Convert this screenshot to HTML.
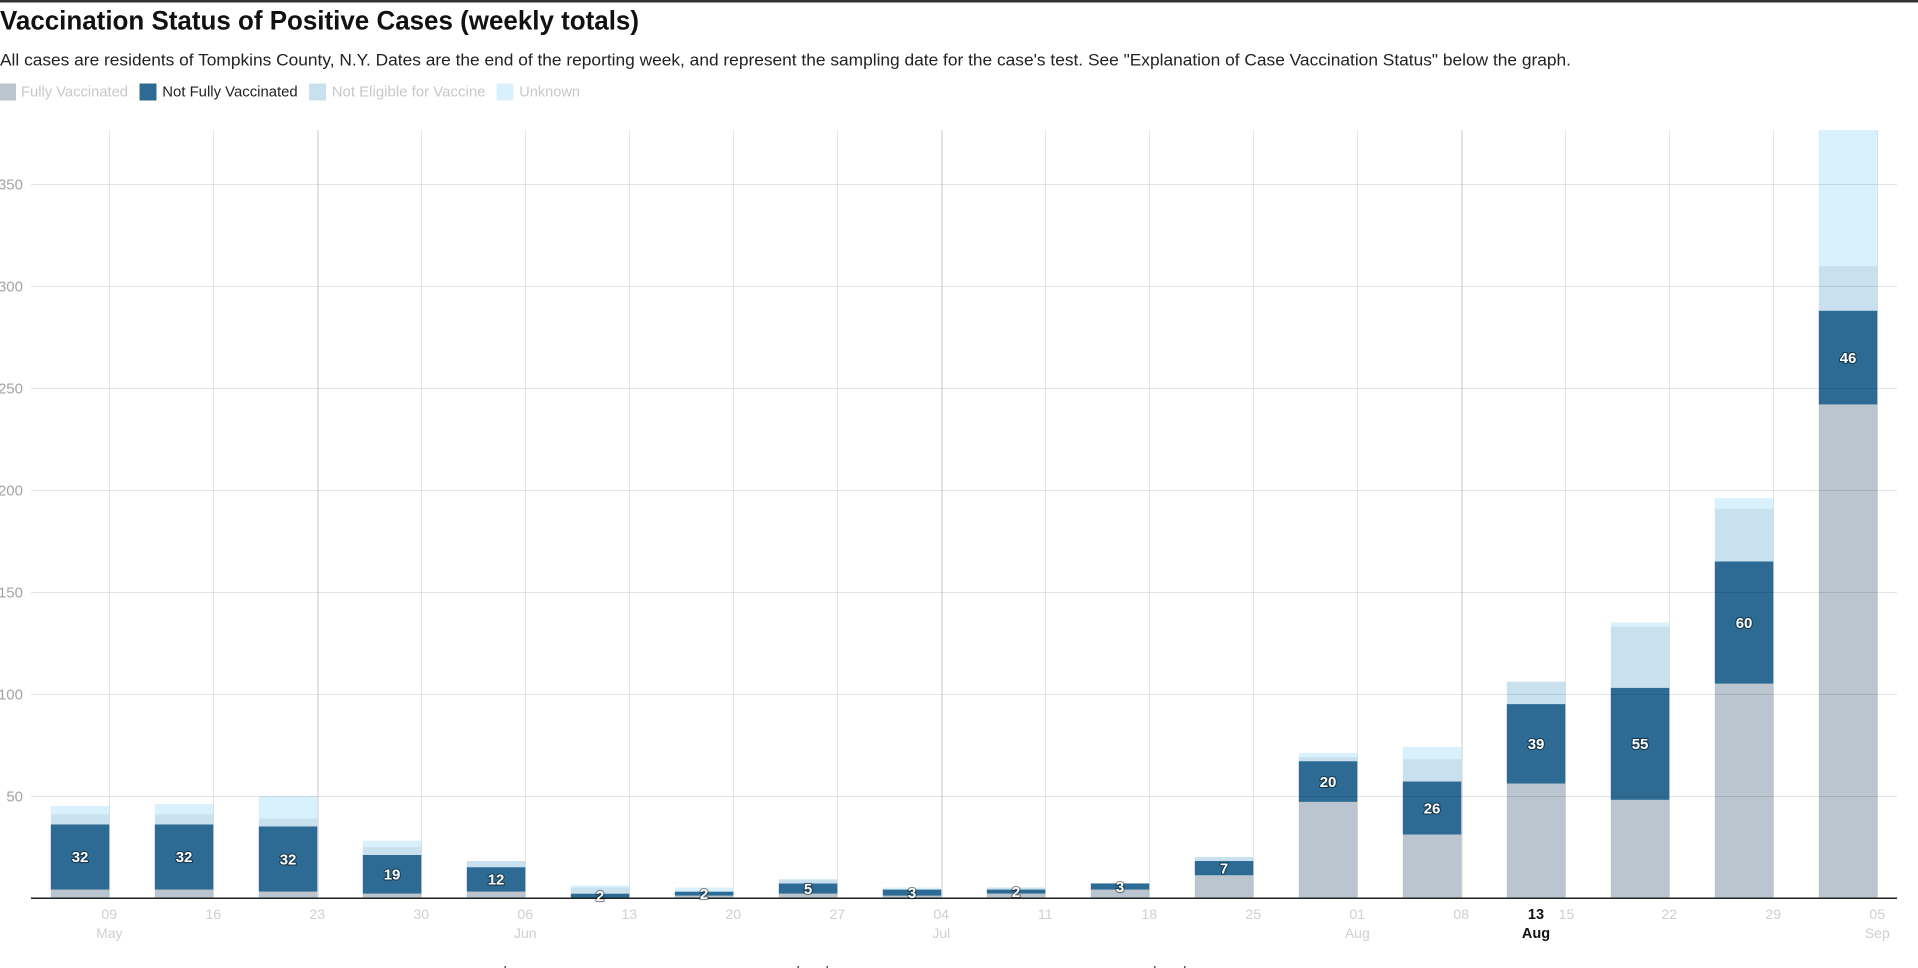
<!DOCTYPE html>
<html>
<head>
<meta charset="utf-8">
<style>
html,body{margin:0;padding:0;background:#fff;}
body{width:1918px;height:968px;overflow:hidden;}
svg{display:block;font-family:"Liberation Sans",Arial,sans-serif;}
.yl{font-size:15px;fill:#a3a3a3;text-anchor:end;}
.xl{font-size:14px;fill:#cfcfcf;text-anchor:middle;}
.bl{font-size:15px;font-weight:bold;fill:#fff;text-anchor:middle;stroke:rgba(0,0,0,0.45);stroke-width:2.2px;paint-order:stroke;stroke-linejoin:round;}
.g{fill:#bac5cf;}
.d{fill:#2d6b94;}
.n{fill:#c9e1ef;}
.u{fill:#d9f1fc;}
</style>
</head>
<body>
<svg width="1918" height="968" viewBox="0 0 1918 968" xmlns="http://www.w3.org/2000/svg">
<rect x="0" y="0" width="1918" height="968" fill="#fff"/>
<rect x="0" y="0" width="1918" height="2.5" fill="#333"/>

<!-- Title / subtitle -->
<text x="0" y="29.5" font-size="27" font-weight="bold" fill="#111" textLength="639" lengthAdjust="spacingAndGlyphs">Vaccination Status of Positive Cases (weekly totals)</text>
<text x="0" y="65.7" font-size="17" fill="#222" textLength="1571" lengthAdjust="spacingAndGlyphs">All cases are residents of Tompkins County, N.Y. Dates are the end of the reporting week, and represent the sampling date for the case's test. See &quot;Explanation of Case Vaccination Status&quot; below the graph.</text>

<!-- Legend -->
<rect x="-1" y="83.5" width="17" height="17" class="g"/>
<text x="21" y="96.7" font-size="15" fill="#c8c8c8" textLength="107" lengthAdjust="spacingAndGlyphs">Fully Vaccinated</text>
<rect x="139.5" y="83.5" width="17" height="17" class="d"/>
<text x="162.3" y="96.7" font-size="15" fill="#222" textLength="135.4" lengthAdjust="spacingAndGlyphs">Not Fully Vaccinated</text>
<rect x="309" y="83.5" width="17" height="17" class="n"/>
<text x="331.7" y="96.7" font-size="15" fill="#c8c8c8" textLength="153.8" lengthAdjust="spacingAndGlyphs">Not Eligible for Vaccine</text>
<rect x="496.5" y="83.5" width="17" height="17" class="u"/>
<text x="519.3" y="96.7" font-size="15" fill="#c8c8c8" textLength="60.7" lengthAdjust="spacingAndGlyphs">Unknown</text>

<!-- Bars -->
<g>
<!-- 0 -->
<rect x="50.8" y="889.55" width="58.5" height="8.15" class="g"/>
<rect x="50.8" y="824.32" width="58.5" height="65.23" class="d"/>
<rect x="50.8" y="814.13" width="58.5" height="10.19" class="n"/>
<rect x="50.8" y="806.00" width="58.5" height="8.13" class="u"/>
<!-- 1 -->
<rect x="154.8" y="889.55" width="58.5" height="8.15" class="g"/>
<rect x="154.8" y="824.32" width="58.5" height="65.23" class="d"/>
<rect x="154.8" y="814.13" width="58.5" height="10.19" class="n"/>
<rect x="154.8" y="803.96" width="58.5" height="10.17" class="u"/>
<!-- 2 -->
<rect x="258.8" y="891.59" width="58.5" height="6.11" class="g"/>
<rect x="258.8" y="826.36" width="58.5" height="65.23" class="d"/>
<rect x="258.8" y="818.21" width="58.5" height="8.15" class="n"/>
<rect x="258.8" y="795.79" width="58.5" height="22.42" class="u"/>
<!-- 3 -->
<rect x="362.8" y="893.62" width="58.5" height="4.08" class="g"/>
<rect x="362.8" y="854.90" width="58.5" height="38.72" class="d"/>
<rect x="362.8" y="846.74" width="58.5" height="8.16" class="n"/>
<rect x="362.8" y="840.63" width="58.5" height="6.11" class="u"/>
<!-- 4 -->
<rect x="466.8" y="891.59" width="58.5" height="6.11" class="g"/>
<rect x="466.8" y="867.13" width="58.5" height="24.46" class="d"/>
<rect x="466.8" y="861.01" width="58.5" height="6.12" class="n"/>
<!-- 5 -->
<rect x="570.8" y="893.62" width="58.5" height="4.08" class="d"/>
<rect x="570.8" y="887.51" width="58.5" height="6.11" class="n"/>
<rect x="570.8" y="885.47" width="58.5" height="2.04" class="u"/>
<!-- 6 -->
<rect x="674.8" y="895.66" width="58.5" height="2.04" class="g"/>
<rect x="674.8" y="891.59" width="58.5" height="4.07" class="d"/>
<rect x="674.8" y="887.51" width="58.5" height="4.08" class="u"/>
<!-- 7 -->
<rect x="778.8" y="893.62" width="58.5" height="4.08" class="g"/>
<rect x="778.8" y="883.43" width="58.5" height="10.19" class="d"/>
<rect x="778.8" y="879.36" width="58.5" height="4.07" class="n"/>
<!-- 8 -->
<rect x="882.8" y="895.66" width="58.5" height="2.04" class="g"/>
<rect x="882.8" y="889.55" width="58.5" height="6.11" class="d"/>
<rect x="882.8" y="887.51" width="58.5" height="2.04" class="u"/>
<!-- 9 -->
<rect x="986.8" y="893.62" width="58.5" height="4.08" class="g"/>
<rect x="986.8" y="889.55" width="58.5" height="4.07" class="d"/>
<rect x="986.8" y="887.51" width="58.5" height="2.04" class="n"/>
<!-- 10 -->
<rect x="1090.8" y="889.55" width="58.5" height="8.15" class="g"/>
<rect x="1090.8" y="883.43" width="58.5" height="6.12" class="d"/>
<!-- 11 -->
<rect x="1194.8" y="875.28" width="58.5" height="22.42" class="g"/>
<rect x="1194.8" y="861.01" width="58.5" height="14.27" class="d"/>
<rect x="1194.8" y="856.93" width="58.5" height="4.08" class="n"/>
<!-- 12 -->
<rect x="1298.8" y="801.90" width="58.5" height="95.80" class="g"/>
<rect x="1298.8" y="761.13" width="58.5" height="40.77" class="d"/>
<rect x="1298.8" y="757.06" width="58.5" height="4.07" class="n"/>
<rect x="1298.8" y="752.98" width="58.5" height="4.08" class="u"/>
<!-- 13 -->
<rect x="1402.8" y="834.51" width="58.5" height="63.19" class="g"/>
<rect x="1402.8" y="781.52" width="58.5" height="52.99" class="d"/>
<rect x="1402.8" y="759.10" width="58.5" height="22.42" class="n"/>
<rect x="1402.8" y="746.87" width="58.5" height="12.23" class="u"/>
<!-- 14 -->
<rect x="1506.8" y="783.56" width="58.5" height="114.14" class="g"/>
<rect x="1506.8" y="704.06" width="58.5" height="79.50" class="d"/>
<rect x="1506.8" y="681.64" width="58.5" height="22.42" class="n"/>
<!-- 15 -->
<rect x="1610.8" y="799.86" width="58.5" height="97.84" class="g"/>
<rect x="1610.8" y="687.75" width="58.5" height="112.11" class="d"/>
<rect x="1610.8" y="626.61" width="58.5" height="61.14" class="n"/>
<rect x="1610.8" y="622.53" width="58.5" height="4.08" class="u"/>
<!-- 16 -->
<rect x="1714.8" y="683.68" width="58.5" height="214.02" class="g"/>
<rect x="1714.8" y="561.38" width="58.5" height="122.30" class="d"/>
<rect x="1714.8" y="508.38" width="58.5" height="53.00" class="n"/>
<rect x="1714.8" y="498.19" width="58.5" height="10.19" class="u"/>
<!-- 17 -->
<rect x="1818.8" y="404.43" width="58.5" height="493.27" class="g"/>
<rect x="1818.8" y="310.67" width="58.5" height="93.76" class="d"/>
<rect x="1818.8" y="265.82" width="58.5" height="44.85" class="n"/>
<rect x="1818.8" y="130" width="58.5" height="135.82" class="u"/>
</g>

<!-- Gridlines (drawn over bars, translucent) -->
<g fill="rgba(0,0,0,0.1)">
<rect x="31" y="184" width="1866" height="1"/>
<rect x="31" y="286" width="1866" height="1"/>
<rect x="31" y="388" width="1866" height="1"/>
<rect x="31" y="490" width="1866" height="1"/>
<rect x="31" y="592" width="1866" height="1"/>
<rect x="31" y="694" width="1866" height="1"/>
<rect x="31" y="796" width="1866" height="1"/>
<rect x="109" y="130" width="1" height="768"/>
<rect x="213" y="130" width="1" height="768"/>
<rect x="317" y="130" width="2" height="768"/>
<rect x="421" y="130" width="1" height="768"/>
<rect x="525" y="130" width="1" height="768"/>
<rect x="629" y="130" width="1" height="768"/>
<rect x="733" y="130" width="1" height="768"/>
<rect x="837" y="130" width="1" height="768"/>
<rect x="941" y="130" width="2" height="768"/>
<rect x="1045" y="130" width="1" height="768"/>
<rect x="1149" y="130" width="1" height="768"/>
<rect x="1253" y="130" width="1" height="768"/>
<rect x="1357" y="130" width="1" height="768"/>
<rect x="1461" y="130" width="2" height="768"/>
<rect x="1565" y="130" width="1" height="768"/>
<rect x="1669" y="130" width="1" height="768"/>
<rect x="1773" y="130" width="1" height="768"/>
<rect x="1877" y="130" width="1" height="768"/>
</g>

<!-- Baseline -->
<rect x="31" y="897.5" width="1866" height="1.5" fill="#222"/>

<!-- Bar labels -->
<text class="bl" x="80.05" y="862.2">32</text>
<text class="bl" x="184.05" y="862.2">32</text>
<text class="bl" x="288.05" y="864.3">32</text>
<text class="bl" x="392.05" y="879.6">19</text>
<text class="bl" x="496.05" y="884.7">12</text>
<text class="bl" x="600.05" y="901.0">2</text>
<text class="bl" x="704.05" y="899.0">2</text>
<text class="bl" x="808.05" y="893.9">5</text>
<text class="bl" x="912.05" y="898.0">3</text>
<text class="bl" x="1016.05" y="897.0">2</text>
<text class="bl" x="1120.05" y="891.9">3</text>
<text class="bl" x="1224.05" y="873.5">7</text>
<text class="bl" x="1328.05" y="786.8">20</text>
<text class="bl" x="1432.05" y="813.4">26</text>
<text class="bl" x="1536.05" y="749.2">39</text>
<text class="bl" x="1640.05" y="749.2">55</text>
<text class="bl" x="1744.05" y="627.9">60</text>
<text class="bl" x="1848.05" y="362.9">46</text>

<!-- Y axis labels -->
<text class="yl" x="23" y="189.7">350</text>
<text class="yl" x="23" y="291.7">300</text>
<text class="yl" x="23" y="393.7">250</text>
<text class="yl" x="23" y="495.7">200</text>
<text class="yl" x="23" y="597.7">150</text>
<text class="yl" x="23" y="699.7">100</text>
<text class="yl" x="23" y="801.7">50</text>

<!-- X axis labels -->
<text class="xl" x="109.3" y="919">09</text>
<text class="xl" x="109.3" y="938">May</text>
<text class="xl" x="213.3" y="919">16</text>
<text class="xl" x="317.3" y="919">23</text>
<text class="xl" x="421.3" y="919">30</text>
<text class="xl" x="525.3" y="919">06</text>
<text class="xl" x="525.3" y="938">Jun</text>
<text class="xl" x="629.3" y="919">13</text>
<text class="xl" x="733.3" y="919">20</text>
<text class="xl" x="837.3" y="919">27</text>
<text class="xl" x="941.3" y="919">04</text>
<text class="xl" x="941.3" y="938">Jul</text>
<text class="xl" x="1045.3" y="919">11</text>
<text class="xl" x="1149.3" y="919">18</text>
<text class="xl" x="1253.3" y="919">25</text>
<text class="xl" x="1357.3" y="919">01</text>
<text class="xl" x="1357.3" y="938">Aug</text>
<text class="xl" x="1461.3" y="919">08</text>
<text class="xl" x="1566.5" y="919">15</text>
<text class="xl" x="1669.3" y="919">22</text>
<text class="xl" x="1773.3" y="919">29</text>
<text class="xl" x="1877.3" y="919">05</text>
<text class="xl" x="1877.3" y="938">Sep</text>
<text x="1536" y="919" font-size="14.5" font-weight="bold" fill="#111" text-anchor="middle">13</text>
<text x="1536" y="938" font-size="14.5" font-weight="bold" fill="#111" text-anchor="middle">Aug</text>

<!-- tiny cut-off marks at bottom -->
<g fill="#555">
<rect x="504.5" y="966" width="1.5" height="2"/>
<rect x="797.5" y="966" width="1.5" height="2"/>
<rect x="826.5" y="966" width="1.5" height="2"/>
<rect x="1154" y="966" width="1.5" height="2"/>
<rect x="1184" y="966" width="1.5" height="2"/>
</g>
</svg>
</body>
</html>
